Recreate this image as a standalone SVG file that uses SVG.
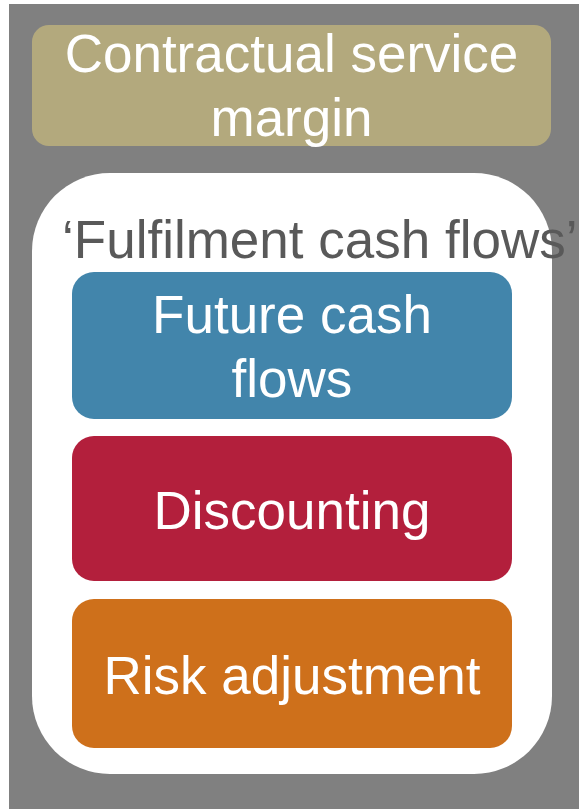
<svg xmlns="http://www.w3.org/2000/svg" width="579" height="809" viewBox="0 0 579 809">
  <style>
    .lbl { font-family: "Liberation Sans", Arial, sans-serif; font-size: 53px; fill: #ffffff; text-anchor: middle; }
    .title { font-family: "Liberation Sans", Arial, sans-serif; font-size: 53px; fill: #595959; }
  </style>
  <rect x="0" y="0" width="579" height="809" fill="#ffffff"/>
  <rect id="background" x="9" y="4" width="570" height="805" fill="#808080"/>
  <g id="csm">
    <rect x="32" y="25" width="519" height="121" rx="17" fill="#B3A97D"/>
    <text class="lbl" x="291.5" y="72">Contractual service</text>
    <text class="lbl" x="291.5" y="136">margin</text>
  </g>
  <g id="fulfilment">
    <rect x="32" y="173" width="520" height="601" rx="78" fill="#ffffff"/>
    <text class="title" x="62" y="258">‘Fulfilment cash flows’</text>
  </g>
  <g id="future-cash-flows">
    <rect x="72" y="272" width="440" height="147" rx="22" fill="#4285AB"/>
    <text class="lbl" x="292" y="333">Future cash</text>
    <text class="lbl" x="292" y="397">flows</text>
  </g>
  <g id="discounting">
    <rect x="72" y="436" width="440" height="145" rx="22" fill="#B31F3C"/>
    <text class="lbl" x="292" y="529">Discounting</text>
  </g>
  <g id="risk-adjustment">
    <rect x="72" y="599" width="440" height="149" rx="22" fill="#CE701B"/>
    <text class="lbl" x="292" y="694">Risk adjustment</text>
  </g>
  <g id="connectors"></g>
</svg>
